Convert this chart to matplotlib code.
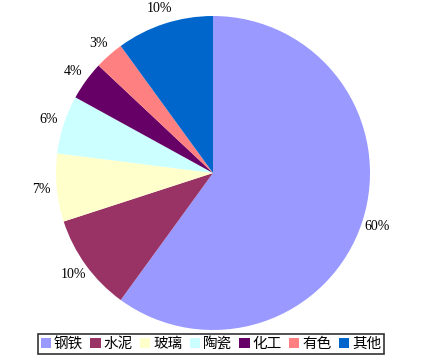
import matplotlib.pyplot as plt

plt.rcParams['font.family'] = ['Noto Sans CJK SC', 'DejaVu Sans']

# 数据
labels = ['钢铁', '水泥', '玻璃', '陶瓷', '化工', '有色', '其他']
values = [60, 10, 7, 6, 4, 3, 10]
colors = ['#9999FF', '#993366', '#FFFFCC', '#CCFFFF', '#660066', '#FF8080', '#0066CC']

W, H = 424, 360
fig = plt.figure(figsize=(W / 100, H / 100), dpi=100)

# pie centre ~ (213,173) px from top, radius ~157 px
R = 157
cx, cy = 213, H - 173
half = 1.2 * R
ax = fig.add_axes([(cx - half) / W, (cy - half) / H, 2 * half / W, 2 * half / H])

wedges, texts = ax.pie(values, colors=colors, startangle=90, counterclock=False,
                       labels=[f'{v}%' for v in values], labeldistance=1.1,
                       textprops={'family': 'Liberation Serif', 'fontsize': 10})
for t in texts:
    t.set_horizontalalignment('center')
    t.set_verticalalignment('center')

# pie() resets the limits, so set them afterwards
ax.set_xlim(-1.2, 1.2)
ax.set_ylim(-1.2, 1.2)
ax.set_aspect('equal')
ax.axis('off')

leg = fig.legend(wedges, labels, loc='center', bbox_to_anchor=(211 / W, 16 / H),
                 ncol=7, frameon=True, fancybox=False, edgecolor='black',
                 fontsize=10.5, handlelength=0.7, handleheight=0.7,
                 handletextpad=0.2, columnspacing=0.5, borderpad=0.2,
                 borderaxespad=0)
leg.get_frame().set_linewidth(1.2)

fig.savefig('out.png', dpi=100)
